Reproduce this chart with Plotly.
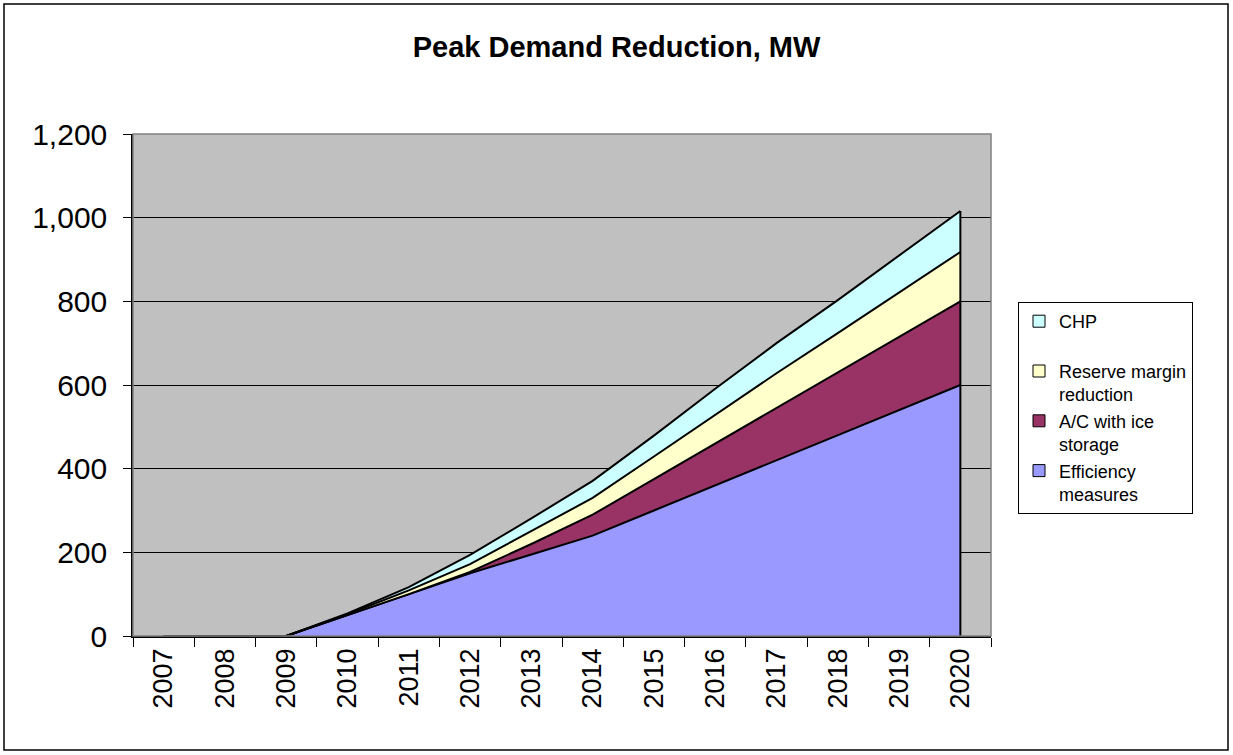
import plotly.graph_objects as go

years = ["2007", "2008", "2009", "2010", "2011", "2012", "2013", "2014",
         "2015", "2016", "2017", "2018", "2019", "2020"]
efficiency = [0, 0, 0, 50, 100, 150, 195, 240, 300, 360, 420, 480, 540, 600]
ac_ice = [0, 0, 0, 0, 0, 3, 25, 50, 75, 100, 125, 150, 175, 200]
reserve = [0, 0, 0, 2, 9, 19, 30, 40, 54, 68, 83, 94, 106, 118]
chp = [0, 0, 0, 2, 8, 22, 31, 41, 50, 63, 72, 79, 88, 98]

series = [
    ("Efficiency<br>measures", efficiency, "#9999FF"),
    ("A/C with ice<br>storage", ac_ice, "#993366"),
    ("Reserve margin<br>reduction", reserve, "#FFFFCC"),
    ("CHP<br>&#160;", chp, "#CCFFFF"),
]

FONT = "Liberation Sans, Arial, sans-serif"
fig = go.Figure()

for name, vals, color in series:
    fig.add_trace(go.Scatter(
        x=years, y=vals, stackgroup="one", mode="lines",
        line=dict(color="black", width=2), fillcolor=color,
        showlegend=False, hoverinfo="skip",
    ))

# vertical closing edge at the last category
totals = [sum(v) for v in zip(efficiency, ac_ice, reserve, chp)]
fig.add_trace(go.Scatter(
    x=[years[-1], years[-1]], y=[0, totals[-1]], mode="lines",
    line=dict(color="black", width=2), showlegend=False, hoverinfo="skip",
))

# legend entries (square swatches), top to bottom
for name, vals, color in reversed(series):
    fig.add_trace(go.Bar(
        x=[None], y=[None], name=name,
        marker=dict(color=color, line=dict(color="black", width=1)),
    ))

W, H = 1233, 755
L, R, T, B = 133, 242, 134, 119
pw, ph = W - L - R, H - T - B

fig.update_layout(
    width=W, height=H,
    margin=dict(l=L, r=R, t=T, b=B),
    paper_bgcolor="white", plot_bgcolor="#C0C0C0",
    font=dict(family=FONT, color="black"),
    title=dict(text="<b>Peak Demand Reduction, MW</b>", x=0.5, xanchor="center",
               y=1 - 47 / H, yanchor="middle",
               font=dict(size=29, family=FONT, color="black")),
    legend=dict(
        x=(1018 - L) / pw, xanchor="left",
        y=(H - B - 302) / ph, yanchor="top",
        bgcolor="white", bordercolor="black", borderwidth=1,
        font=dict(size=18, family=FONT, color="black"),
        valign="top", traceorder="normal", itemwidth=30,
    ),
    xaxis=dict(
        type="category", range=[-0.5, len(years) - 0.5],
        tickson="boundaries", ticks="outside", ticklen=9, tickcolor="black",
        tickwidth=1, tickangle=-90,
        tickfont=dict(size=27, family=FONT, color="black"),
        showline=True, linecolor="black", linewidth=1.5, mirror=False,
        showgrid=False, zeroline=False,
    ),
    yaxis=dict(
        range=[0, 1200], dtick=200, tickformat=",",
        ticks="outside", ticklen=8, tickcolor="black", tickwidth=1,
        ticklabelstandoff=10,
        tickfont=dict(size=30, family=FONT, color="black"),
        showline=True, linecolor="black", linewidth=1.5,
        showgrid=True, gridcolor="black", gridwidth=1, zeroline=False,
    ),
    shapes=[
        dict(type="rect", xref="paper", yref="paper",
             x0=0, x1=1, y0=0, y1=1,
             line=dict(color="#808080", width=1.5), layer="above"),
        dict(type="rect", xref="paper", yref="paper",
             x0=(4 - L) / pw, x1=(1228 - L) / pw,
             y0=(H - B - 750) / ph, y1=(H - B - 4) / ph,
             line=dict(color="black", width=1.5)),
    ],
)

fig.write_html("out.html", config={"displayModeBar": False},
               post_script="document.body.style.margin='0';")
